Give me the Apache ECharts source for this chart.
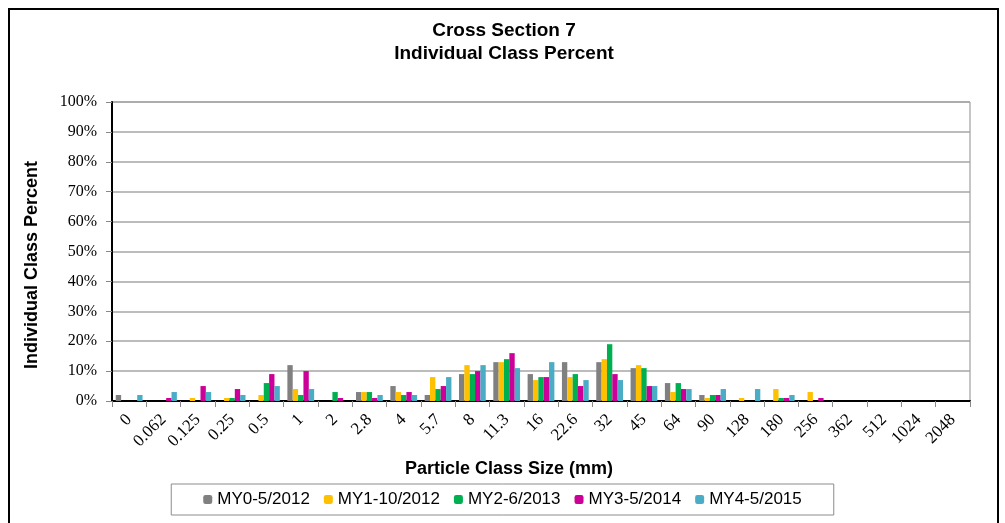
<!DOCTYPE html>
<html>
<head>
<meta charset="utf-8">
<script src="https://cdn.jsdelivr.net/npm/echarts@6/dist/echarts.min.js"></script>
<style>
  html, body { margin: 0; padding: 0; background: #fff; }
  #wrap { position: relative; width: 1005px; height: 523px; overflow: hidden; }
  #main { position: absolute; left: 0; top: 0; width: 1005px; height: 523px; }
  /* 外框 */
  #frame { position: absolute; left: 8px; top: 8px; width: 987px; height: 540px; border: 2px solid #000; pointer-events: none; }
</style>
</head>
<body>
<div id="wrap">
  <div id="main"></div>
  <div id="frame"></div>
</div>
<script>
// 粒径分类
var categories = ['0', '0.062', '0.125', '0.25', '0.5', '1', '2', '2.8', '4', '5.7', '8', '11.3', '16', '22.6', '32', '45', '64', '90', '128', '180', '256', '362', '512', '1024', '2048']
// 各年份百分比
var my0 = [2, 0, 0, 0, 0, 12, 0, 3, 5, 2, 9, 13, 9, 13, 13, 11, 6, 2, 0, 0, 0, 0, 0, 0, 0]
var my1 = [0, 0, 1, 1, 2, 4, 0, 3, 3, 8, 12, 13, 7, 8, 14, 12, 3, 1, 1, 4, 3, 0, 0, 0, 0]
var my2 = [0, 0, 0, 1, 6, 2, 3, 3, 2, 4, 9, 14, 8, 9, 19, 11, 6, 2, 0, 1, 0, 0, 0, 0, 0]
var my3 = [0, 1, 5, 4, 9, 10, 1, 1, 3, 5, 10, 16, 8, 5, 9, 5, 4, 2, 0, 1, 1, 0, 0, 0, 0]
var my4 = [2, 3, 3, 2, 5, 4, 0, 2, 2, 8, 12, 11, 13, 7, 7, 5, 4, 4, 4, 2, 0, 0, 0, 0, 0]
var seriesNames = ['MY0-5/2012', 'MY1-10/2012', 'MY2-6/2013', 'MY3-5/2014', 'MY4-5/2015']
var colors = ['#808080', '#FFC000', '#00B050', '#CC0099', '#4BACC6']
var yTicks = [0, 10, 20, 30, 40, 50, 60, 70, 80, 90, 100]

var allData = [my0, my1, my2, my3, my4]
var series = seriesNames.map(function (n, i) {
  return {
    name: n,
    type: 'bar',
    data: allData[i],
    barGap: '0%',
    barCategoryGap: '22%',
    itemStyle: { color: colors[i] }
  }
})

var sans = '"Liberation Sans", Arial, sans-serif'
var serif = '"Liberation Serif", "Times New Roman", serif'

var myChart = echarts.init(document.getElementById('main'), null, { renderer: 'canvas' })
myChart.setOption({
  animation: false,
  color: colors,
  title: {
    text: 'Cross Section 7\nIndividual Class Percent',
    left: 499,
    textAlign: 'center',
    top: 14,
    textStyle: { fontFamily: sans, fontSize: 19, fontWeight: 'bold', color: '#000', lineHeight: 23 }
  },
  grid: {
    left: 112, top: 102, right: 35, bottom: 122,
    show: true, borderColor: '#8c8c8c', borderWidth: 1
  },
  legend: {
    data: seriesNames,
    left: 'center',
    top: 484,
    padding: [7, 32],
    borderColor: '#8c8c8c',
    borderWidth: 1,
    itemWidth: 9,
    itemHeight: 9,
    itemGap: 14,
    textStyle: { fontFamily: sans, fontSize: 17, color: '#000' }
  },
  xAxis: {
    type: 'category',
    data: categories,
    axisLine: { lineStyle: { color: '#000', width: 2 } },
    axisTick: { show: true, alignWithLabel: false, length: 6, lineStyle: { color: '#888' } },
    axisLabel: { rotate: 45, interval: 0, margin: 16, fontFamily: serif, fontSize: 17, color: '#000' }
  },
  yAxis: {
    type: 'value',
    min: 0, max: 100, interval: 10,
    axisLine: { show: true, lineStyle: { color: '#000', width: 2 } },
    axisTick: { show: true, length: 6, lineStyle: { color: '#888' } },
    splitLine: { lineStyle: { color: '#a6a6a6', width: 1.5 } },
    axisLabel: {
      margin: 15, fontFamily: serif, fontSize: 16, color: '#000',
      formatter: function (v) { return yTicks.indexOf(v) >= 0 ? v + '%' : '' }
    }
  },
  graphic: [
    {
      type: 'text', left: 405, top: 460,
      style: { text: 'Particle Class Size (mm)', font: 'bold 18px ' + sans, fill: '#000' }
    },
    {
      type: 'text', x: 23, y: 265, rotation: Math.PI / 2,
      style: { text: 'Individual Class Percent', font: 'bold 18px ' + sans, fill: '#000', align: 'center', verticalAlign: 'top' }
    }
  ],
  series: series
})
</script>
</body>
</html>
